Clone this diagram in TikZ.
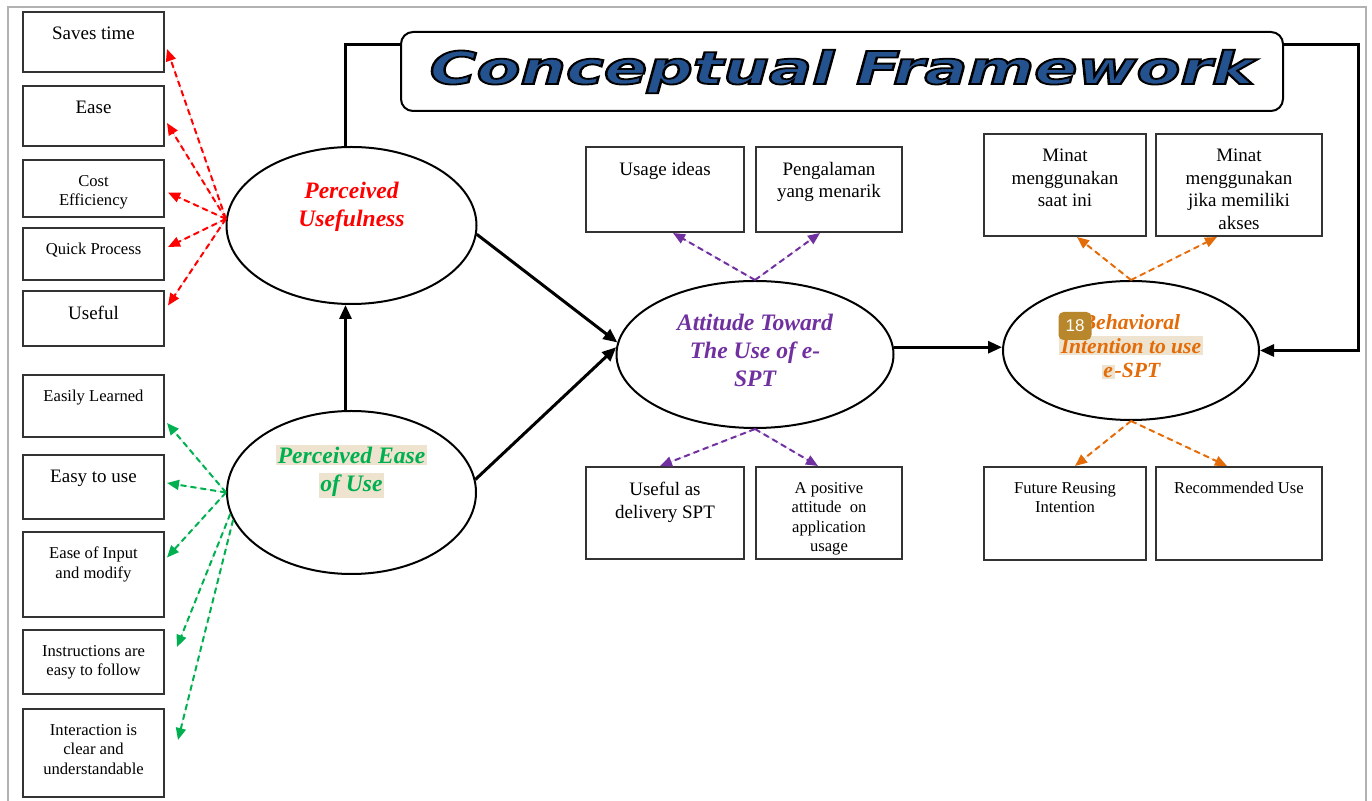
\documentclass[tikz,border=0pt]{standalone}
\usepackage{fontspec}
\setmainfont{Liberation Serif}
\setsansfont{Liberation Sans}
\newfontfamily\ttlfont{DejaVu Sans}
\usepackage{xcolor}
\usetikzlibrary{shapes.geometric,arrows.meta,calc,positioning}
\definecolor{pured}{HTML}{FF0000}
\definecolor{pegreen}{HTML}{00B050}
\definecolor{atpurple}{HTML}{7030A0}
\definecolor{biorange}{HTML}{E36C09}
\definecolor{ttlblue}{HTML}{24528F}
\definecolor{hilite}{HTML}{EDE3CE}
\definecolor{badgecol}{HTML}{B8862B}
\newcommand{\hlbox}[1]{{\setlength{\fboxsep}{0.8pt}\colorbox{hilite}{#1}}}
\newcommand{\outlined}[1]{\special{pdf:code q 2 Tr 0.9 w 0 0 0 RG}#1\special{pdf:code Q}}

\begin{document}
\begin{tikzpicture}[x=0.5pt,y=-0.5pt,
  box/.style={draw=black!80,line width=1pt,fill=white,minimum width=70.5pt,inner sep=0pt},
  lbl/.style={anchor=north,align=center,inner sep=0pt,yshift=-7.9pt,font=\fontsize{9.5}{11.3}\selectfont},
  slbl/.style={lbl,font=\fontsize{8.3}{9.8}\selectfont},
  oval/.style={ellipse,draw,line width=1pt,inner sep=0pt},
  otext/.style={align=center,inner sep=0pt,font=\fontsize{11.8}{14}\selectfont\bfseries\itshape},
  titlebox/.style={draw,line width=1pt,rounded corners=6pt,minimum width=441pt,minimum height=39.5pt,
    fill=white,text=ttlblue,font=\ttlfont\fontsize{22.5}{22.5}\selectfont\bfseries\itshape},
  badge/.style={fill=badgecol,rounded corners=2.5pt,text=white,inner sep=0pt,
    minimum width=16.5pt,minimum height=14pt,font=\sffamily\fontsize{8.5}{8.5}\selectfont},
  lnk/.style={line width=1.5pt},
  conn/.style={lnk,-{Triangle[length=7pt,width=6pt]}},
  dsh/.style={line width=1pt,dash pattern=on 3pt off 2pt,-{Triangle[length=6pt,width=5pt]}},
  dred/.style={dsh,draw=pured,fill=pured},
  dgreen/.style={dsh,draw=pegreen,fill=pegreen},
  dpur/.style={dsh,draw=atpurple,fill=atpurple},
  dorange/.style={dsh,draw=biorange,fill=biorange}]
\useasboundingbox (0,0) rectangle (1372,801);
\draw[gray!60,line width=0.6pt] (8,801) -- (8,7) -- (1366,7) -- (1366,801);
%
\node[titlebox] (title) at (842,71.5) {\scalebox{1.42}[1]{\outlined{Conceptual Framework}}};
%
\node[box,minimum height=30pt,label={[lbl]north:Saves time}] (s1) at (93.5,42) {};
\node[box,minimum height=30pt,label={[lbl]north:Ease}] (s2) at (93.5,116) {};
\node[box,minimum height=28.5pt,label={[slbl]north:Cost\\Efficiency}] (s3) at (93.5,188.5) {};
\node[box,minimum height=26pt,label={[slbl]north:Quick Process}] (s4) at (93.5,254) {};
\node[box,minimum height=27.5pt,label={[lbl]north:Useful}] (s5) at (93.5,318.5) {};
%
\node[box,minimum height=31pt,label={[slbl]north:Easily Learned}] (g1) at (93.5,406) {};
\node[box,minimum height=32pt,label={[lbl]north:Easy to use}] (g2) at (93.5,487) {};
\node[box,minimum height=42.5pt,label={[slbl]north:Ease of Input\\and modify}] (g3) at (93.5,574.5) {};
\node[box,minimum height=32pt,label={[slbl]north:Instructions are\\easy to follow}] (g4) at (93.5,662) {};
\node[box,minimum height=44pt,label={[slbl]north:Interaction is\\clear and\\understandable}] (g5) at (93.5,753) {};
%
\node[oval,minimum width=125pt,minimum height=78.5pt,
  label={[otext,text=pured,yshift=9.5pt]center:Perceived\\Usefulness}] (pu) at (351.5,225.5) {};
\node[oval,minimum width=124.5pt,minimum height=81.5pt,
  label={[otext,text=pegreen,yshift=10.5pt]center:\hlbox{Perceived Ease}\\\hlbox{of Use}}] (peou) at (351.5,492.5) {};
\node[oval,minimum width=138.5pt,minimum height=73.5pt,
  label={[otext,text=atpurple,yshift=2pt]center:Attitude Toward\\The Use of e-\\SPT}] (atu) at (755,354.5) {};
\node[oval,minimum width=128pt,minimum height=69.5pt,
  label={[otext,text=biorange,yshift=2pt,font=\fontsize{10.8}{12}\selectfont\bfseries\itshape]center:Behavioral\\\hlbox{Intention to use}\\\hlbox{e}-SPT}] (bi) at (1131,350.5) {};
%
\node[box,minimum width=79pt,minimum height=42.5pt,label={[lbl]north:Usage ideas}] (a1) at (665,189.5) {};
\node[box,minimum width=73pt,minimum height=42.5pt,label={[lbl]north:Pengalaman\\yang menarik}] (a2) at (829,189.5) {};
\node[box,minimum width=79pt,minimum height=46pt,label={[lbl]north:Useful as\\delivery SPT}] (a3) at (665,513) {};
\node[box,minimum width=73pt,minimum height=46pt,label={[slbl]north:A positive\\attitude~~on\\application\\usage}] (a4) at (829,513) {};
%
\node[box,minimum width=81pt,minimum height=51pt,label={[lbl]north:Minat\\menggunakan\\saat ini}] (b1) at (1065,185) {};
\node[box,minimum width=83pt,minimum height=51pt,label={[lbl]north:Minat\\menggunakan\\jika memiliki\\akses}] (b2) at (1239,185) {};
\node[box,minimum width=81pt,minimum height=46.5pt,label={[slbl]north:Future Reusing\\Intention}] (b3) at (1065,513.5) {};
\node[box,minimum width=83pt,minimum height=46.5pt,label={[slbl]north:Recommended Use}] (b4) at (1239,513.5) {};
%
\draw[lnk] ([xshift=-3pt]pu.north) |- ([yshift=-7pt]title.north west);
\draw[conn] ([yshift=-7pt]title.north east) -- ++(74,0) |- (bi.east);
\draw[conn] ([xshift=-3pt]peou.north) -- ([xshift=-3pt]pu.south);
\draw[conn] (pu.-4) -- (atu.175);
\draw[conn] (peou.6) -- (atu.177);
\draw[conn] (atu.3) -- (atu.3 -| bi.west);
%
\draw[dred] (pu.177) -- ($(s1.east)+(2,7)$);
\draw[dred] (pu.177) -- ($(s2.east)+(2,7)$);
\draw[dred] (pu.177) -- ($(s3.east)+(3,4)$);
\draw[dred] (pu.177) -- ($(s4.east)+(3,-7)$);
\draw[dred] (pu.177) -- ($(s5.east)+(3,-13)$);
%
\draw[dgreen] (peou.west) -- ($(g1.east)+(2,17)$);
\draw[dgreen] (peou.west) -- ($(g2.east)+(2,-4)$);
\draw[dgreen] (peou.west) -- ($(g3.east)+(2,-17)$);
\draw[dgreen] (peou.190) -- ($(g4.east)+(12,-15)$);
\draw[dgreen] (peou.193) -- ($(g5.east)+(13,-13)$);
%
\draw[dpur] (atu.north) -- ($(a1.south)+(8,0)$);
\draw[dpur] (atu.north) -- ($(a2.south)+(-9,0)$);
\draw[dpur] (atu.south) -- ($(a3.north)+(-5,0)$);
\draw[dpur] (atu.south) -- ($(a4.north)+(-11,0)$);
%
\draw[dorange] (bi.north) -- ($(b1.south)+(12,0)$);
\draw[dorange] (bi.north) -- ($(b2.south)+(-22,0)$);
\draw[dorange] (bi.south) -- ($(b3.north)+(10,0)$);
\draw[dorange] (bi.south) -- ($(b4.north)+(-12,0)$);
%
\node[badge] (c18) at (1075,326) {18};
\end{tikzpicture}
\end{document}
